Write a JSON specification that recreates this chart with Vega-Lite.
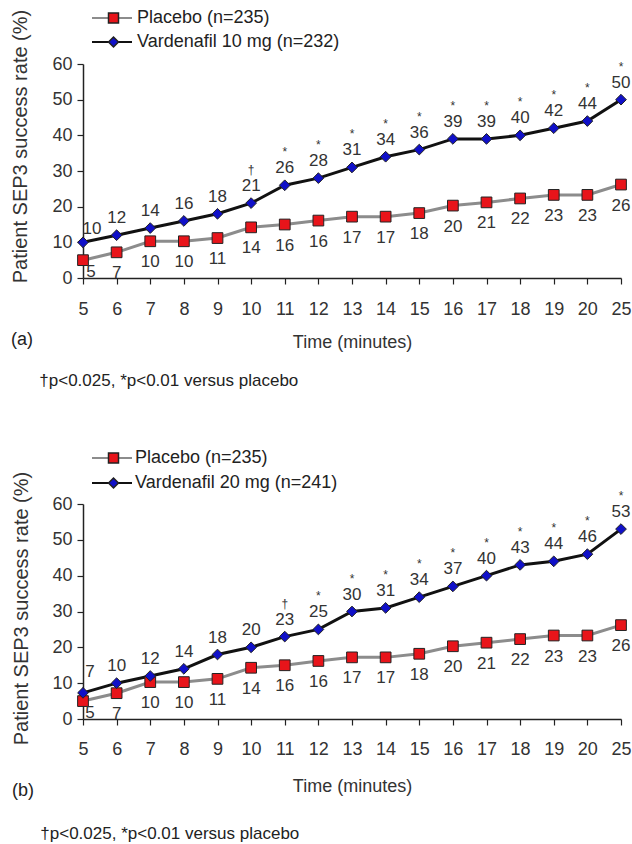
{
  "$schema": "https://vega.github.io/schema/vega-lite/v6.json",
  "background": "white",
  "padding": {"left": 10, "top": 9, "right": 0, "bottom": 0},
  "spacing": 60,
  "config": {
    "font": "Liberation Sans",
    "view": {"stroke": null},
    "axis": {
      "labelFont": "Liberation Sans", "labelFontSize": 18, "labelColor": "#333333", "labelOverlap": false,
      "titleFont": "Liberation Sans", "titleFontSize": 18, "titleFontWeight": "normal", "titleColor": "#333333",
      "domainColor": "#222222", "tickColor": "#222222", "domainWidth": 1.5, "tickWidth": 1.2, "grid": false, "tickSize": 6
    },
    "axisY": {"titleFontSize": 20},
    "title": {"font": "Liberation Sans", "fontWeight": "normal", "subtitleFont": "Liberation Sans"}
  },
  "datasets": {
    "refs": [{"panel": "a", "time": 10}, {"panel": "b", "time": 11}],
    "d": [
      {"panel": "a", "time": 5, "series": "Placebo (n=235)", "rate": 5, "label": "5"},
      {"panel": "a", "time": 6, "series": "Placebo (n=235)", "rate": 7.2, "label": "7"},
      {"panel": "a", "time": 7, "series": "Placebo (n=235)", "rate": 10.3, "label": "10"},
      {"panel": "a", "time": 8, "series": "Placebo (n=235)", "rate": 10.3, "label": "10"},
      {"panel": "a", "time": 9, "series": "Placebo (n=235)", "rate": 11.2, "label": "11"},
      {"panel": "a", "time": 10, "series": "Placebo (n=235)", "rate": 14.2, "label": "14"},
      {"panel": "a", "time": 11, "series": "Placebo (n=235)", "rate": 15, "label": "16"},
      {"panel": "a", "time": 12, "series": "Placebo (n=235)", "rate": 16.1, "label": "16"},
      {"panel": "a", "time": 13, "series": "Placebo (n=235)", "rate": 17.2, "label": "17"},
      {"panel": "a", "time": 14, "series": "Placebo (n=235)", "rate": 17.2, "label": "17"},
      {"panel": "a", "time": 15, "series": "Placebo (n=235)", "rate": 18.2, "label": "18"},
      {"panel": "a", "time": 16, "series": "Placebo (n=235)", "rate": 20.3, "label": "20"},
      {"panel": "a", "time": 17, "series": "Placebo (n=235)", "rate": 21.2, "label": "21"},
      {"panel": "a", "time": 18, "series": "Placebo (n=235)", "rate": 22.3, "label": "22"},
      {"panel": "a", "time": 19, "series": "Placebo (n=235)", "rate": 23.3, "label": "23"},
      {"panel": "a", "time": 20, "series": "Placebo (n=235)", "rate": 23.3, "label": "23"},
      {"panel": "a", "time": 25, "series": "Placebo (n=235)", "rate": 26.2, "label": "26"},
      {"panel": "a", "time": 5, "series": "Vardenafil 10 mg (n=232)", "rate": 10, "label": "10"},
      {"panel": "a", "time": 6, "series": "Vardenafil 10 mg (n=232)", "rate": 12, "label": "12"},
      {"panel": "a", "time": 7, "series": "Vardenafil 10 mg (n=232)", "rate": 14, "label": "14"},
      {"panel": "a", "time": 8, "series": "Vardenafil 10 mg (n=232)", "rate": 16, "label": "16"},
      {"panel": "a", "time": 9, "series": "Vardenafil 10 mg (n=232)", "rate": 18, "label": "18"},
      {"panel": "a", "time": 10, "series": "Vardenafil 10 mg (n=232)", "rate": 21, "label": "21", "sig": "†"},
      {"panel": "a", "time": 11, "series": "Vardenafil 10 mg (n=232)", "rate": 26, "label": "26", "sig": "*"},
      {"panel": "a", "time": 12, "series": "Vardenafil 10 mg (n=232)", "rate": 28, "label": "28", "sig": "*"},
      {"panel": "a", "time": 13, "series": "Vardenafil 10 mg (n=232)", "rate": 31, "label": "31", "sig": "*"},
      {"panel": "a", "time": 14, "series": "Vardenafil 10 mg (n=232)", "rate": 34, "label": "34", "sig": "*"},
      {"panel": "a", "time": 15, "series": "Vardenafil 10 mg (n=232)", "rate": 36, "label": "36", "sig": "*"},
      {"panel": "a", "time": 16, "series": "Vardenafil 10 mg (n=232)", "rate": 39, "label": "39", "sig": "*"},
      {"panel": "a", "time": 17, "series": "Vardenafil 10 mg (n=232)", "rate": 39, "label": "39", "sig": "*"},
      {"panel": "a", "time": 18, "series": "Vardenafil 10 mg (n=232)", "rate": 40, "label": "40", "sig": "*"},
      {"panel": "a", "time": 19, "series": "Vardenafil 10 mg (n=232)", "rate": 42, "label": "42", "sig": "*"},
      {"panel": "a", "time": 20, "series": "Vardenafil 10 mg (n=232)", "rate": 44, "label": "44", "sig": "*"},
      {"panel": "a", "time": 25, "series": "Vardenafil 10 mg (n=232)", "rate": 50, "label": "50", "sig": "*"},
      {"panel": "b", "time": 5, "series": "Placebo (n=235)", "rate": 5, "label": "5"},
      {"panel": "b", "time": 6, "series": "Placebo (n=235)", "rate": 7.2, "label": "7"},
      {"panel": "b", "time": 7, "series": "Placebo (n=235)", "rate": 10.3, "label": "10"},
      {"panel": "b", "time": 8, "series": "Placebo (n=235)", "rate": 10.3, "label": "10"},
      {"panel": "b", "time": 9, "series": "Placebo (n=235)", "rate": 11.2, "label": "11"},
      {"panel": "b", "time": 10, "series": "Placebo (n=235)", "rate": 14.3, "label": "14"},
      {"panel": "b", "time": 11, "series": "Placebo (n=235)", "rate": 15, "label": "16"},
      {"panel": "b", "time": 12, "series": "Placebo (n=235)", "rate": 16.2, "label": "16"},
      {"panel": "b", "time": 13, "series": "Placebo (n=235)", "rate": 17.2, "label": "17"},
      {"panel": "b", "time": 14, "series": "Placebo (n=235)", "rate": 17.2, "label": "17"},
      {"panel": "b", "time": 15, "series": "Placebo (n=235)", "rate": 18.2, "label": "18"},
      {"panel": "b", "time": 16, "series": "Placebo (n=235)", "rate": 20.3, "label": "20"},
      {"panel": "b", "time": 17, "series": "Placebo (n=235)", "rate": 21.3, "label": "21"},
      {"panel": "b", "time": 18, "series": "Placebo (n=235)", "rate": 22.3, "label": "22"},
      {"panel": "b", "time": 19, "series": "Placebo (n=235)", "rate": 23.3, "label": "23"},
      {"panel": "b", "time": 20, "series": "Placebo (n=235)", "rate": 23.3, "label": "23"},
      {"panel": "b", "time": 25, "series": "Placebo (n=235)", "rate": 26.2, "label": "26"},
      {"panel": "b", "time": 5, "series": "Vardenafil 20 mg (n=241)", "rate": 7.3, "label": "7"},
      {"panel": "b", "time": 6, "series": "Vardenafil 20 mg (n=241)", "rate": 10, "label": "10"},
      {"panel": "b", "time": 7, "series": "Vardenafil 20 mg (n=241)", "rate": 12, "label": "12"},
      {"panel": "b", "time": 8, "series": "Vardenafil 20 mg (n=241)", "rate": 14, "label": "14"},
      {"panel": "b", "time": 9, "series": "Vardenafil 20 mg (n=241)", "rate": 18, "label": "18"},
      {"panel": "b", "time": 10, "series": "Vardenafil 20 mg (n=241)", "rate": 20, "label": "20"},
      {"panel": "b", "time": 11, "series": "Vardenafil 20 mg (n=241)", "rate": 23, "label": "23", "sig": "†"},
      {"panel": "b", "time": 12, "series": "Vardenafil 20 mg (n=241)", "rate": 25, "label": "25", "sig": "*"},
      {"panel": "b", "time": 13, "series": "Vardenafil 20 mg (n=241)", "rate": 30, "label": "30", "sig": "*"},
      {"panel": "b", "time": 14, "series": "Vardenafil 20 mg (n=241)", "rate": 31, "label": "31", "sig": "*"},
      {"panel": "b", "time": 15, "series": "Vardenafil 20 mg (n=241)", "rate": 34, "label": "34", "sig": "*"},
      {"panel": "b", "time": 16, "series": "Vardenafil 20 mg (n=241)", "rate": 37, "label": "37", "sig": "*"},
      {"panel": "b", "time": 17, "series": "Vardenafil 20 mg (n=241)", "rate": 40, "label": "40", "sig": "*"},
      {"panel": "b", "time": 18, "series": "Vardenafil 20 mg (n=241)", "rate": 43, "label": "43", "sig": "*"},
      {"panel": "b", "time": 19, "series": "Vardenafil 20 mg (n=241)", "rate": 44, "label": "44", "sig": "*"},
      {"panel": "b", "time": 20, "series": "Vardenafil 20 mg (n=241)", "rate": 46, "label": "46", "sig": "*"},
      {"panel": "b", "time": 25, "series": "Vardenafil 20 mg (n=241)", "rate": 53, "label": "53", "sig": "*"}
    ]
  },
  "resolve": {
    "scale": {"stroke": "independent", "fill": "independent", "shape": "independent"},
    "legend": {"stroke": "independent", "fill": "independent", "shape": "independent"}
  },
  "vconcat": [
    {
      "width": 538, "height": 214,
      "title": {"text": "(a)", "subtitle": "\u200b\u00a0\u00a0\u00a0\u00a0\u00a0\u00a0†p<0.025, *p<0.01 versus placebo", "orient": "bottom", "anchor": "start", "frame": "bounds", "offset": -20, "fontSize": 18, "color": "#222222", "subtitleFontSize": 17, "subtitleColor": "#222222", "subtitlePadding": 24},
      "encoding": {
        "x": {"field": "time", "type": "ordinal", "scale": {"type": "point", "padding": 0},
              "axis": {"title": "Time (minutes)", "labelAngle": 0, "labelPadding": 16, "titlePadding": 15}},
        "y": {"field": "rate", "type": "quantitative", "scale": {"domain": [0, 60], "nice": false},
              "axis": {"title": "Patient SEP3 success rate (%)", "values": [0, 10, 20, 30, 40, 50, 60], "labelPadding": 5, "titlePadding": 21, "titleY": 82}}
      },
      "layer": [
        {"data": {"name": "refs"}, "transform": [{"filter": "datum.panel === 'a'"}],
         "mark": {"type": "rule", "color": "#aaaaaa", "strokeWidth": 1.5},
         "encoding": {"y": {"datum": 0}, "y2": {"datum": 60}}},
        {"data": {"name": "d"}, "transform": [{"filter": "datum.panel === 'a'"}],
         "mark": {"type": "line", "strokeWidth": 3},
         "encoding": {
           "stroke": {"field": "series", "type": "nominal",
                      "scale": {"domain": ["Placebo (n=235)", "Vardenafil 10 mg (n=232)"], "range": ["#8c8c8c", "#111111"]},
                      "legend": {"orient": "none", "legendX": 8, "legendY": -55, "title": null, "symbolType": "stroke", "symbolSize": 1600, "symbolStrokeWidth": 2, "clipHeight": 18, "labelFontSize": 18, "labelColor": "#222222", "labelOffset": 4, "rowPadding": 6, "padding": 0, "labelLimit": 400,
                                 "encode": {"symbols": {"update": {"stroke": {"value": "#8c8c8c"}}}}}}
         }},
        {"data": {"name": "d"}, "transform": [{"filter": "datum.panel === 'a'"}],
         "mark": {"type": "point", "filled": true, "size": 115, "stroke": "#222222", "strokeWidth": 1, "opacity": 1},
         "encoding": {
           "fill": {"field": "series", "type": "nominal", "scale": {"range": ["#e8141a", "#1010c8"]},
                    "legend": {"orient": "none", "legendX": 21.5, "legendY": -55, "title": null, "symbolSize": 100, "clipHeight": 18, "labelFontSize": 18, "labelExpr": "''", "rowPadding": 6, "padding": 0}},
           "shape": {"field": "series", "type": "nominal", "scale": {"range": ["square", "diamond"]},
                     "legend": {"orient": "none", "legendX": 21.5, "legendY": -55, "title": null, "symbolSize": 100, "clipHeight": 18, "labelFontSize": 18, "labelExpr": "''", "rowPadding": 6, "padding": 0}}
         }},
        {"data": {"name": "d"}, "transform": [{"filter": "datum.panel === 'a' && indexof(datum.series, 'Vard') === 0 && datum.time !== 5"}],
         "mark": {"type": "text", "fontSize": 17, "fill": "#333333", "dy": -17},
         "encoding": {"text": {"field": "label", "type": "nominal"}}},
        {"data": {"name": "d"}, "transform": [{"filter": "datum.panel === 'a' && indexof(datum.series, 'Vard') === 0 && datum.time === 5"}],
         "mark": {"type": "text", "fontSize": 17, "fill": "#333333", "dy": -13, "dx": 9},
         "encoding": {"text": {"field": "label", "type": "nominal"}}},
        {"data": {"name": "d"}, "transform": [{"filter": "datum.panel === 'a' && indexof(datum.series, 'Plac') === 0 && datum.time !== 5"}],
         "mark": {"type": "text", "fontSize": 17, "fill": "#333333", "dy": 21},
         "encoding": {"text": {"field": "label", "type": "nominal"}}},
        {"data": {"name": "d"}, "transform": [{"filter": "datum.panel === 'a' && indexof(datum.series, 'Plac') === 0 && datum.time === 5"}],
         "mark": {"type": "text", "fontSize": 17, "fill": "#333333", "dy": 12, "dx": 8},
         "encoding": {"text": {"field": "label", "type": "nominal"}}},
        {"data": {"name": "d"}, "transform": [{"filter": "datum.panel === 'a' && isValid(datum.sig)"}],
         "mark": {"type": "text", "fontSize": 12, "fill": "#333333", "dy": -33},
         "encoding": {"text": {"field": "sig", "type": "nominal"}}}
      ]
    },
    {
      "width": 538, "height": 215,
      "title": {"text": "(b)", "subtitle": "\u200b\u00a0\u00a0\u00a0\u00a0\u00a0\u00a0†p<0.025, *p<0.01 versus placebo", "orient": "bottom", "anchor": "start", "frame": "bounds", "offset": -13, "fontSize": 18, "color": "#222222", "subtitleFontSize": 17, "subtitleColor": "#222222", "subtitlePadding": 26},
      "encoding": {
        "x": {"field": "time", "type": "ordinal", "scale": {"type": "point", "padding": 0},
              "axis": {"title": "Time (minutes)", "labelAngle": 0, "labelPadding": 15, "titlePadding": 19}},
        "y": {"field": "rate", "type": "quantitative", "scale": {"domain": [0, 60], "nice": false},
              "axis": {"title": "Patient SEP3 success rate (%)", "values": [0, 10, 20, 30, 40, 50, 60], "labelPadding": 5, "titlePadding": 20, "titleY": 104}}
      },
      "layer": [
        {"data": {"name": "refs"}, "transform": [{"filter": "datum.panel === 'b'"}],
         "mark": {"type": "rule", "color": "#aaaaaa", "strokeWidth": 1.5},
         "encoding": {"y": {"datum": 0}, "y2": {"datum": 60}}},
        {"data": {"name": "d"}, "transform": [{"filter": "datum.panel === 'b'"}],
         "mark": {"type": "line", "strokeWidth": 3},
         "encoding": {
           "stroke": {"field": "series", "type": "nominal",
                      "scale": {"domain": ["Placebo (n=235)", "Vardenafil 20 mg (n=241)"], "range": ["#8c8c8c", "#111111"]},
                      "legend": {"orient": "none", "legendX": 8, "legendY": -55, "title": null, "symbolType": "stroke", "symbolSize": 1600, "symbolStrokeWidth": 2, "clipHeight": 18, "labelFontSize": 18, "labelColor": "#222222", "labelOffset": 2, "rowPadding": 7, "padding": 0, "labelLimit": 400,
                                 "encode": {"symbols": {"update": {"stroke": {"value": "#8c8c8c"}}}}}}
         }},
        {"data": {"name": "d"}, "transform": [{"filter": "datum.panel === 'b'"}],
         "mark": {"type": "point", "filled": true, "size": 115, "stroke": "#222222", "strokeWidth": 1, "opacity": 1},
         "encoding": {
           "fill": {"field": "series", "type": "nominal", "scale": {"range": ["#e8141a", "#1010c8"]},
                    "legend": {"orient": "none", "legendX": 21.5, "legendY": -55, "title": null, "symbolSize": 100, "clipHeight": 18, "labelFontSize": 18, "labelExpr": "''", "rowPadding": 7, "padding": 0}},
           "shape": {"field": "series", "type": "nominal", "scale": {"range": ["square", "diamond"]},
                     "legend": {"orient": "none", "legendX": 21.5, "legendY": -55, "title": null, "symbolSize": 100, "clipHeight": 18, "labelFontSize": 18, "labelExpr": "''", "rowPadding": 7, "padding": 0}}
         }},
        {"data": {"name": "d"}, "transform": [{"filter": "datum.panel === 'b' && indexof(datum.series, 'Vard') === 0 && datum.time !== 5"}],
         "mark": {"type": "text", "fontSize": 17, "fill": "#333333", "dy": -17},
         "encoding": {"text": {"field": "label", "type": "nominal"}}},
        {"data": {"name": "d"}, "transform": [{"filter": "datum.panel === 'b' && indexof(datum.series, 'Vard') === 0 && datum.time === 5"}],
         "mark": {"type": "text", "fontSize": 17, "fill": "#333333", "dy": -21, "dx": 7},
         "encoding": {"text": {"field": "label", "type": "nominal"}}},
        {"data": {"name": "d"}, "transform": [{"filter": "datum.panel === 'b' && indexof(datum.series, 'Plac') === 0 && datum.time !== 5"}],
         "mark": {"type": "text", "fontSize": 17, "fill": "#333333", "dy": 21},
         "encoding": {"text": {"field": "label", "type": "nominal"}}},
        {"data": {"name": "d"}, "transform": [{"filter": "datum.panel === 'b' && indexof(datum.series, 'Plac') === 0 && datum.time === 5"}],
         "mark": {"type": "text", "fontSize": 17, "fill": "#333333", "dy": 12, "dx": 7},
         "encoding": {"text": {"field": "label", "type": "nominal"}}},
        {"data": {"name": "d"}, "transform": [{"filter": "datum.panel === 'b' && isValid(datum.sig)"}],
         "mark": {"type": "text", "fontSize": 12, "fill": "#333333", "dy": -33},
         "encoding": {"text": {"field": "sig", "type": "nominal"}}}
      ]
    }
  ]
}
